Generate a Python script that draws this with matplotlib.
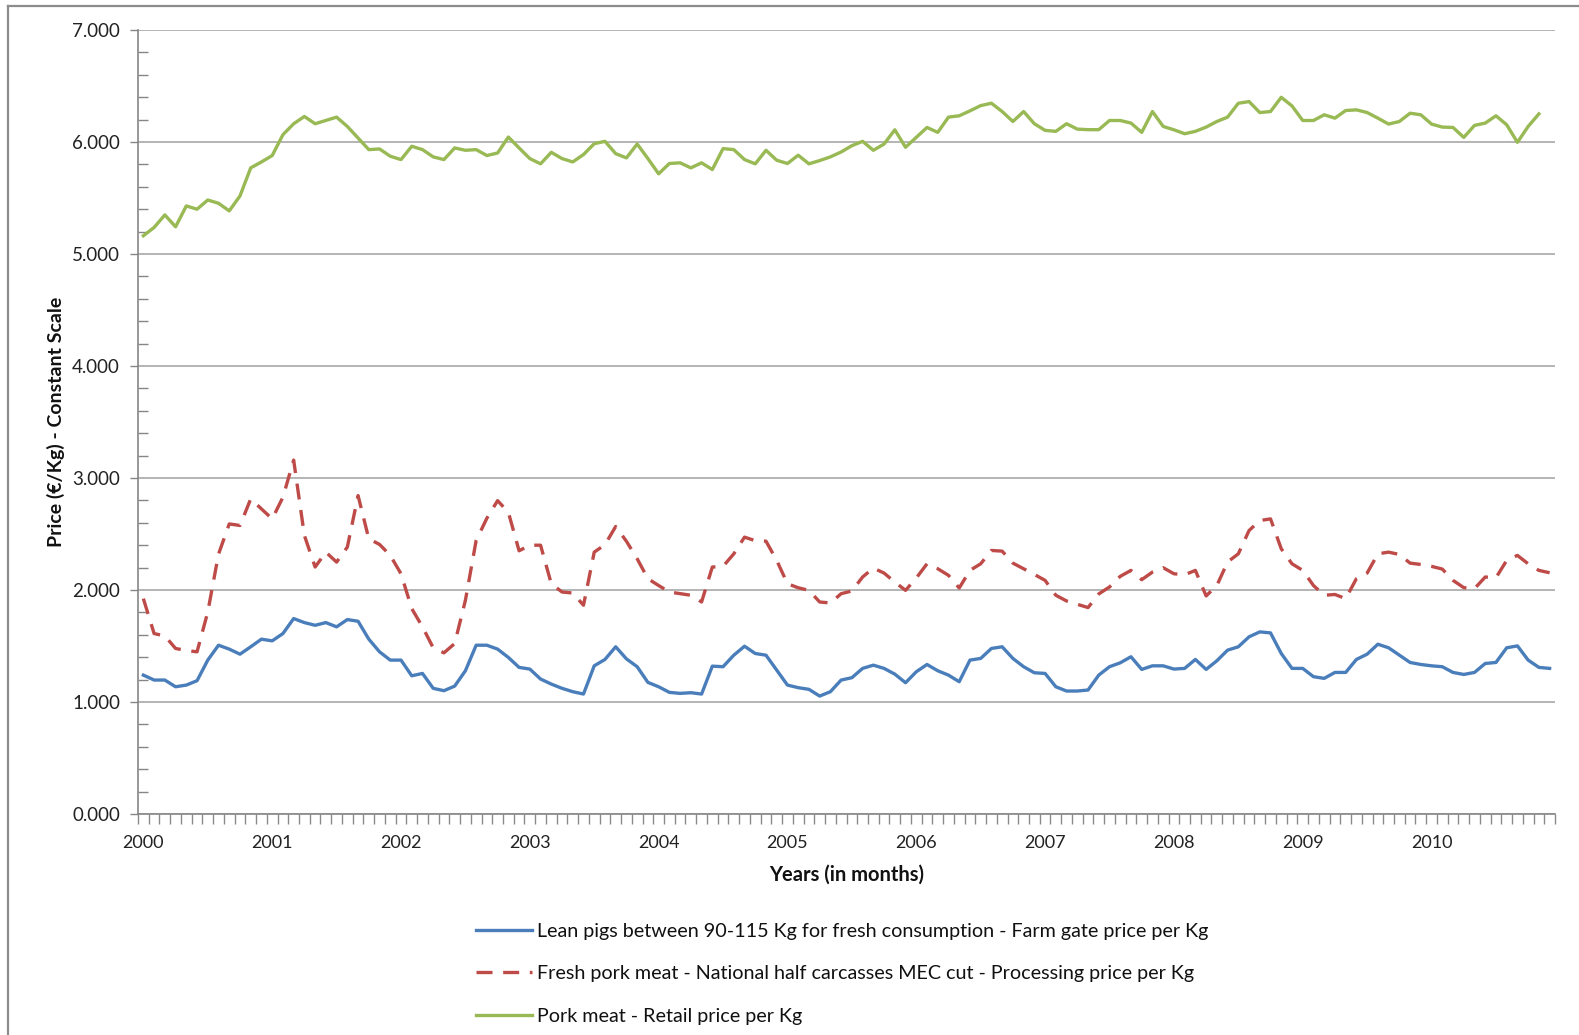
import matplotlib.pyplot as plt
import numpy as np
from matplotlib.lines import Line2D

plt.rcParams["font.family"] = ["Lato", "DejaVu Sans"]

# Monthly prices, Jan 2000 onwards (EUR/Kg, constant scale)
years = [str(y) for y in range(2000, 2011)]

lean_pigs = [
    1.240, 1.196, 1.196, 1.136, 1.151, 1.190, 1.374, 1.507, 1.472, 1.427, 1.493, 1.561,
    1.546, 1.611, 1.745, 1.709, 1.685, 1.709, 1.671, 1.736, 1.721, 1.561, 1.448, 1.374,
    1.374, 1.234, 1.255, 1.122, 1.101, 1.142, 1.279, 1.507, 1.507, 1.472, 1.398, 1.309,
    1.294, 1.205, 1.160, 1.122, 1.092, 1.071, 1.323, 1.380, 1.493, 1.385, 1.315, 1.175,
    1.136, 1.086, 1.077, 1.083, 1.071, 1.320, 1.315, 1.418, 1.498, 1.433, 1.418, 1.285,
    1.151, 1.128, 1.113, 1.053, 1.092, 1.196, 1.217, 1.300, 1.329, 1.300, 1.249, 1.172,
    1.270, 1.335, 1.279, 1.240, 1.181, 1.374, 1.389, 1.478, 1.493, 1.389, 1.315, 1.261,
    1.255, 1.136, 1.098, 1.098, 1.107, 1.240, 1.315, 1.350, 1.404, 1.291, 1.323, 1.323,
    1.294, 1.300, 1.380, 1.291, 1.368, 1.463, 1.493, 1.582, 1.626, 1.617, 1.433, 1.300,
    1.300, 1.226, 1.211, 1.264, 1.264, 1.380, 1.427, 1.516, 1.484, 1.418, 1.353, 1.335,
    1.323, 1.315, 1.264, 1.246, 1.264, 1.344, 1.353, 1.484, 1.501, 1.374, 1.309, 1.300,
]

fresh_pork = [
    1.923, 1.611, 1.590, 1.478, 1.460, 1.448, 1.804, 2.320, 2.590, 2.576, 2.813, 2.724,
    2.635, 2.828, 3.160, 2.487, 2.205, 2.338, 2.249, 2.383, 2.843, 2.457, 2.407, 2.309,
    2.145, 1.834, 1.671, 1.484, 1.439, 1.522, 1.908, 2.442, 2.641, 2.798, 2.694, 2.350,
    2.400, 2.400, 2.056, 1.982, 1.973, 1.864, 2.338, 2.405, 2.567, 2.435, 2.279, 2.101,
    2.040, 1.982, 1.967, 1.953, 1.893, 2.205, 2.211, 2.323, 2.472, 2.440, 2.436, 2.264,
    2.056, 2.020, 1.997, 1.893, 1.884, 1.967, 1.991, 2.116, 2.196, 2.151, 2.071, 1.997,
    2.107, 2.234, 2.190, 2.131, 2.018, 2.175, 2.234, 2.353, 2.347, 2.240, 2.190, 2.139,
    2.086, 1.953, 1.902, 1.872, 1.843, 1.965, 2.027, 2.122, 2.175, 2.092, 2.160, 2.199,
    2.145, 2.136, 2.175, 1.947, 2.040, 2.250, 2.323, 2.531, 2.620, 2.635, 2.368, 2.234,
    2.175, 2.040, 1.953, 1.960, 1.923, 2.101, 2.151, 2.323, 2.338, 2.317, 2.240, 2.228,
    2.211, 2.187, 2.086, 2.021, 2.012, 2.116, 2.110, 2.264, 2.309, 2.234, 2.175, 2.154,
]

# retail series stops one month earlier (no Dec 2010 value)
retail = [
    5.163, 5.237, 5.349, 5.243, 5.429, 5.400, 5.482, 5.453, 5.385, 5.518, 5.769, 5.822,
    5.879, 6.065, 6.163, 6.228, 6.163, 6.192, 6.222, 6.139, 6.036, 5.932, 5.938, 5.873,
    5.843, 5.962, 5.932, 5.867, 5.843, 5.947, 5.926, 5.932, 5.879, 5.902, 6.044, 5.947,
    5.852, 5.805, 5.908, 5.852, 5.822, 5.888, 5.985, 6.006, 5.896, 5.858, 5.982, 5.852,
    5.716, 5.808, 5.814, 5.769, 5.814, 5.754, 5.941, 5.932, 5.843, 5.805, 5.926, 5.837,
    5.808, 5.882, 5.805, 5.834, 5.867, 5.911, 5.967, 6.006, 5.926, 5.982, 6.109, 5.953,
    6.041, 6.130, 6.086, 6.222, 6.234, 6.278, 6.325, 6.346, 6.272, 6.183, 6.272, 6.163,
    6.104, 6.095, 6.163, 6.115, 6.110, 6.110, 6.192, 6.192, 6.169, 6.086, 6.272, 6.139,
    6.109, 6.074, 6.095, 6.133, 6.183, 6.222, 6.346, 6.361, 6.263, 6.272, 6.399, 6.322,
    6.192, 6.192, 6.243, 6.213, 6.281, 6.287, 6.263, 6.213, 6.160, 6.183, 6.257, 6.243,
    6.160, 6.133, 6.130, 6.041, 6.148, 6.169, 6.234, 6.154, 5.997, 6.139, 6.251,
]

labels = [
    "Lean pigs between 90-115 Kg for fresh consumption - Farm gate price per Kg",
    "Fresh pork meat - National half carcasses MEC cut - Processing price per Kg",
    "Pork meat - Retail price per Kg",
]

n_cat = len(lean_pigs)

W, H = 1579, 1035
fig = plt.figure(figsize=(W / 100, H / 100), dpi=100)
ax = fig.add_axes([138 / W, 1 - 814 / H, (1555 - 138) / W, (814 - 30) / H])

ax.plot(np.arange(len(lean_pigs)), lean_pigs, color="#4A7EBB", lw=2.4,
        solid_joinstyle="round", label=labels[0])
ax.plot(np.arange(len(fresh_pork)), fresh_pork, color="#BE4B48", lw=2.4,
        dashes=(4.8, 3.2), dash_capstyle="butt", label=labels[1])
ax.plot(np.arange(len(retail)), retail, color="#98B954", lw=2.4,
        solid_joinstyle="round", label=labels[2])

ax.set_xlim(-0.5, n_cat - 0.5)
ax.set_ylim(0, 7)

# y axis
ax.set_yticks(np.arange(0, 8, 1))
ax.set_yticklabels([f"{v:.3f}" for v in range(8)])
ax.set_yticks(np.arange(0, 7.01, 0.2), minor=True)
ax.tick_params(axis="y", which="major", direction="out", length=6, width=1,
               color="#868686", labelsize=13.5, labelcolor="#222222", pad=7)
ax.tick_params(axis="y", which="minor", direction="in", length=7, width=1,
               color="#868686")
ax.grid(axis="y", which="major", color="#a0a0a0", lw=1.1)
ax.set_axisbelow(True)

# x axis: one tick per month boundary, a label per year
ax.set_xticks(np.arange(0, n_cat, 12))
ax.set_xticklabels(years)
ax.set_xticks(np.arange(-0.5, n_cat, 1), minor=True)
ax.tick_params(axis="x", which="major", length=0, labelsize=13,
               labelcolor="#222222", pad=15)
ax.tick_params(axis="x", which="minor", direction="out", length=7, width=1,
               color="#8a8a8a")

for side in ["top", "right"]:
    ax.spines[side].set_visible(False)
for side in ["left", "bottom"]:
    ax.spines[side].set_color("#868686")
    ax.spines[side].set_linewidth(1.2)

ax.set_xlabel("Years (in months)", fontsize=14.5, fontweight="bold",
              color="#111111", labelpad=10)
ax.set_ylabel("Price (\u20ac/Kg) - Constant Scale", fontsize=14,
              fontweight="bold", color="#111111", labelpad=5)

leg = fig.legend(loc="upper left", bbox_to_anchor=(458 / W, 1 - 905 / H),
                 frameon=False, fontsize=14.2, handlelength=2.85,
                 handletextpad=0.25, labelspacing=1.3)
for t in leg.get_texts():
    t.set_color("#111111")

# outer chart frame (left and top edges visible)
fig.add_artist(Line2D([8 / W, 8 / W], [0, 1 - 6 / H], transform=fig.transFigure,
                      color="#8c8c8c", lw=1.6))
fig.add_artist(Line2D([8 / W, 1], [1 - 6 / H, 1 - 6 / H], transform=fig.transFigure,
                      color="#8c8c8c", lw=1.6))

fig.savefig("out.png", dpi=100)
